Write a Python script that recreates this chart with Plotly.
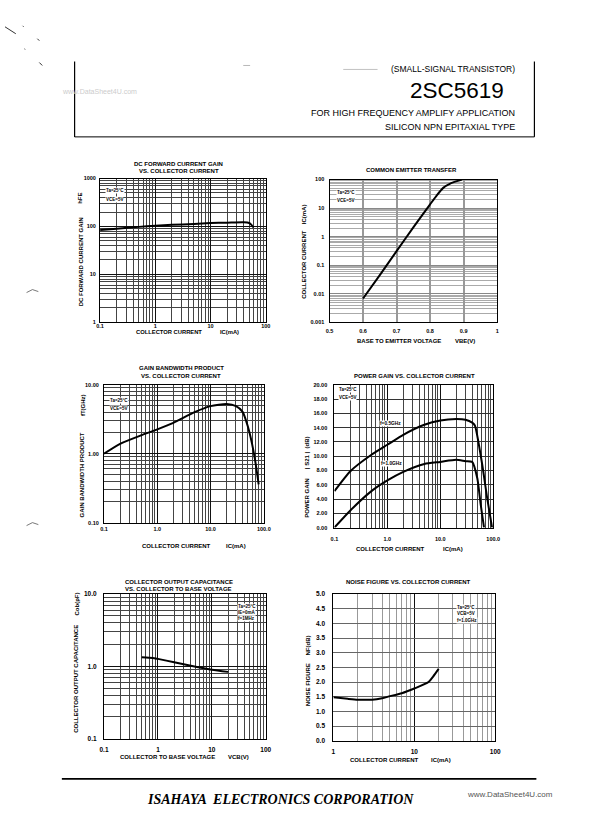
import plotly.graph_objects as go

W, H = 612, 834
SANS = "Liberation Sans Narrow, Liberation Sans, Arial, sans-serif"
SANS_W = "Liberation Sans, Arial, sans-serif"
SERIF = "Liberation Serif, Times New Roman, serif"

# ---------------- data ----------------
hfe_ic = [0.1, 0.2, 0.5, 1, 2, 5, 10, 20, 40, 50, 55, 60]
hfe = [84, 90, 98, 104, 108, 113, 118, 120, 122, 118, 108, 95]

vbe = [0.60, 0.65, 0.70, 0.75, 0.80, 0.82, 0.84, 0.86, 0.88, 0.895]
ic_vbe = [0.0068, 0.045, 0.31, 2.1, 13.5, 28, 52, 72, 88, 100]

ft_ic = [0.1, 0.2, 0.5, 1, 2, 5, 10, 20, 30, 40, 50, 60, 70, 80]
ft = [1.0, 1.39, 1.85, 2.25, 2.8, 4.0, 4.9, 5.25, 4.9, 4.05, 2.5, 1.4, 0.73, 0.36]

pg_ic = [0.1, 0.2, 0.5, 1, 2, 5, 10, 20, 30, 40, 45, 62, 77, 95]
pg_05 = [5.1, 7.9, 10.2, 11.6, 13.0, 14.4, 15.0, 15.2, 15.1, 14.7, 14.3, 8.8, 4.1, 0.0]
pg1_ic = [0.1, 0.2, 0.5, 1, 2, 5, 10, 20, 30, 40, 50, 58, 67]
pg_10 = [0.0, 2.4, 5.1, 6.6, 7.8, 8.9, 9.2, 9.5, 9.3, 9.2, 6.9, 3.2, 0.0]

cob_vcb = [0.5, 0.8, 1, 2, 5, 10, 20]
cob = [1.34, 1.31, 1.27, 1.14, 0.99, 0.90, 0.84]

nf_ic = [1, 1.5, 2, 3, 4, 5, 7, 10, 15, 17, 20]
nf = [1.48, 1.43, 1.40, 1.40, 1.45, 1.52, 1.62, 1.78, 2.0, 2.18, 2.45]

# tick labels
lbl_p1x = ["0.1", "1", "10", "100"]
lbl_p1y = ["1", "10", "100", "1000"]
lbl_p2x = ["0.5", "0.6", "0.7", "0.8", "0.9", "1"]
lbl_p2y = ["0.001", "0.01", "0.1", "1", "10", "100"]
lbl_p3x = ["0.1", "1.0", "10.0", "100.0"]
lbl_p3y = ["0.10", "1.00", "10.00"]
lbl_p4y = ["0.00", "2.00", "4.00", "6.00", "8.00", "10.00", "12.00", "14.00", "16.00", "18.00", "20.00"]
lbl_p5y = ["0.1", "1.0", "10.0"]
lbl_p6x = ["1", "10", "100"]
lbl_p6y = ["0.0", "0.5", "1.0", "1.5", "2.0", "2.5", "3.0", "3.5", "4.0", "4.5", "5.0"]

# ---------------- helpers ----------------
def fx(px):
    return px / W

def fy(py):
    return 1 - py / H

def minors(lo, hi):
    out = []
    e = lo
    while e < hi:
        for m in range(2, 10):
            out.append(m * 10 ** e)
        e += 1
    return out

fig = go.Figure()
annots = []
shapes = []

def ann(text, x, y, size, xanchor="center", yanchor="middle", angle=0,
        family=SANS, color="black", bold=True, bg=None, italic=False):
    t = text
    if italic:
        t = "<i>" + t + "</i>"
    if bold:
        t = "<b>" + t + "</b>"
    d = dict(text=t, x=fx(x), y=fy(y), xref="paper", yref="paper",
             showarrow=False, xanchor=xanchor, yanchor=yanchor, textangle=angle,
             font=dict(family=family, size=size, color=color))
    if bg:
        d["bgcolor"] = bg
    d["borderpad"] = 0
    annots.append(d)

def axis_common():
    return dict(showline=True, mirror=True, linecolor="black", linewidth=1.2,
                ticks="", ticklen=0, zeroline=False, showgrid=True)

layout_axes = {}

def add_panel(idx, box, xcfg, ycfg):
    x0, x1, y0, y1 = box
    xa = "xaxis" if idx == 1 else f"xaxis{idx}"
    ya = "yaxis" if idx == 1 else f"yaxis{idx}"
    xc = axis_common()
    xc.update(xcfg)
    xc.update(domain=[fx(x0), fx(x1)], anchor=f"y{'' if idx == 1 else idx}")
    yc = axis_common()
    yc.update(ycfg)
    yc.update(domain=[fy(y1), fy(y0)], anchor=f"x{'' if idx == 1 else idx}")
    layout_axes[xa] = xc
    layout_axes[ya] = yc

def line(idx, xs, ys, width=2.0):
    fig.add_trace(go.Scatter(x=xs, y=ys, mode="lines",
                             line=dict(color="black", width=width, shape="spline", smoothing=0.6),
                             xaxis=f"x{'' if idx == 1 else idx}",
                             yaxis=f"y{'' if idx == 1 else idx}",
                             showlegend=False, hoverinfo="skip"))

TICKF = dict(family=SANS, size=5.5, color="black", weight="bold")
TICKF2 = dict(family=SANS_W, size=6.5, color="black", weight="bold")

def logax(lo, hi, labels, major_col="#111", minor_col="#444", mw=0.8, font=TICKF, stand=1):
    vals = [10 ** e for e in range(lo, hi + 1)]
    return dict(type="log", range=[lo, hi], tickvals=vals, ticktext=labels,
                gridcolor=major_col, gridwidth=1.0, tickfont=font,
                ticklabelstandoff=stand,
                minor=dict(tickvals=minors(lo, hi), showgrid=True,
                           gridcolor=minor_col, gridwidth=mw, ticks=""))

# ---- Panel 1: hFE vs IC
add_panel(1, (97, 266, 176, 321),
          logax(-1, 2, lbl_p1x, stand=-2),
          logax(0, 3, lbl_p1y, stand=2))
line(1, hfe_ic, hfe)

# ---- Panel 2: IC vs VBE
add_panel(2, (331, 502, 177, 321),
          dict(type="linear", range=[0.5, 1.0], tickvals=[0.5, 0.6, 0.7, 0.8, 0.9, 1.0],
               ticktext=lbl_p2x, gridcolor="#999", gridwidth=1.6, tickfont=TICKF,
               ticklabelstandoff=3),
          logax(-3, 2, lbl_p2y, major_col="#888", minor_col="#aaa", mw=1.1, stand=3))
line(2, vbe, ic_vbe)

# ---- Panel 3: fT vs IC
add_panel(3, (101, 264, 384, 523),
          logax(-1, 2, lbl_p3x, stand=1),
          logax(-1, 1, lbl_p3y, stand=3))
line(3, ft_ic, ft)

# ---- Panel 4: power gain
add_panel(4, (336, 498, 384, 528),
          logax(-1, 2, lbl_p3x, stand=6),
          dict(type="linear", range=[0, 20], tickvals=list(range(0, 21, 2)),
               ticktext=lbl_p4y, gridcolor="#333", gridwidth=0.8, tickfont=TICKF,
               ticklabelstandoff=5))
line(4, pg_ic, pg_05)
line(4, pg1_ic, pg_10)

# ---- Panel 5: Cob vs VCB
add_panel(5, (101, 266, 595, 741),
          logax(-1, 2, lbl_p1x, font=TICKF2, stand=4),
          logax(-1, 1, lbl_p5y, font=TICKF2, stand=5))
line(5, cob_vcb, cob)

# ---- Panel 6: NF vs IC
add_panel(6, (335, 500, 595, 743),
          logax(0, 2, lbl_p6x, minor_col="#999", mw=1.2, font=TICKF2, stand=4),
          dict(type="linear", range=[0, 5], tickvals=[i * 0.5 for i in range(11)],
               ticktext=lbl_p6y, gridcolor="#666", gridwidth=0.8, tickfont=TICKF2,
               ticklabelstandoff=6))
line(6, nf_ic, nf)

# ---------------- titles / labels ----------------
TS = 6
# panel 1
ann("DC FORWARD CURRENT GAIN", 177, 161, TS)
ann("VS. COLLECTOR CURRENT", 177, 168, TS)
ann("COLLECTOR CURRENT", 167, 331, 5.8)
ann("IC(mA)", 229, 331, 5.8)
ann("DC FORWARD CURRENT GAIN", 77, 260, TS, angle=-90)
ann("hFE", 77, 196, TS, angle=-90)
ann("Ta=25°C", 102, 188, 4.5, xanchor="left", bg="white")
ann("VCE=5V", 102, 197, 4.5, xanchor="left", bg="white")

# panel 2
ann("COMMON EMITTER TRANSFER", 415, 167, TS)
ann("BASE TO EMITTER VOLTAGE", 402, 340, TS)
ann("VBE(V)", 469, 340, TS)
ann("COLLECTOR CURRENT", 305, 263, TS, angle=-90)
ann("IC(mA)", 305, 212, TS, angle=-90)
ann("Ta=25°C", 338, 190, 4.5, xanchor="left", bg="white")
ann("VCE=5V", 338, 198, 4.5, xanchor="left", bg="white")

# panel 3
ann("GAIN BANDWIDTH PRODUCT", 180, 367, TS)
ann("VS. COLLECTOR CURRENT", 180, 375, TS)
ann("COLLECTOR CURRENT", 175, 547, TS)
ann("IC(mA)", 236, 547, TS)
ann("GAIN BANDWIDTH PRODUCT", 79, 475, TS, angle=-90)
ann("fT(GHz)", 79, 404, TS, angle=-90)
ann("Ta=25°C", 106, 400, 4.5, xanchor="left", bg="white")
ann("VCE=5V", 106, 408, 4.5, xanchor="left", bg="white")

# panel 4
ann("POWER GAIN VS. COLLECTOR CURRENT", 418, 375, TS)
ann("COLLECTOR CURRENT", 393, 550, TS)
ann("IC(mA)", 457, 550, TS)
ann("POWER GAIN", 308, 498, TS, angle=-90)
ann("| S21 |  (dB)", 308, 452, TS, angle=-90)
ann("Ta=25°C", 340, 389, 4.5, xanchor="left", bg="white")
ann("VCE=5V", 340, 397, 4.5, xanchor="left", bg="white")
ann("f=0.5GHz", 393, 423, 4.8, bg="white")
ann("f=1.0GHz", 394, 463, 4.8, bg="white")

# panel 5
ann("COLLECTOR OUTPUT CAPACITANCE", 177, 583, TS)
ann("VS. COLLECTOR TO BASE VOLTAGE", 177, 590, TS)
ann("COLLECTOR TO BASE VOLTAGE", 166, 759, TS)
ann("VCB(V)", 238, 759, TS)
ann("COLLECTOR OUTPUT CAPACITANCE", 73, 681, TS, angle=-90)
ann("Cob(pF)", 73, 605, TS, angle=-90)
ann("Ta=25°C", 237, 608, 4.5, xanchor="left", bg="white")
ann("IE=0mA", 237, 614, 4.5, xanchor="left", bg="white")
ann("f=1MHz", 237, 620, 4.5, xanchor="left", bg="white")

# panel 6
ann("NOISE FIGURE VS. COLLECTOR CURRENT", 412, 583, TS)
ann("COLLECTOR CURRENT", 387, 762, TS)
ann("IC(mA)", 445, 762, TS)
ann("NOISE FIGURE", 309, 686, TS, angle=-90)
ann("NF(dB)", 309, 647, TS, angle=-90)
ann("Ta=25°C", 460, 609, 4.5, xanchor="left", bg="white")
ann("VCB=5V", 460, 615, 4.5, xanchor="left", bg="white")
ann("f=1.0GHz", 460, 622, 4.5, xanchor="left", bg="white")

# ---------------- header ----------------
ann("(SMALL-SIGNAL TRANSISTOR)", 521, 66, 8.5, xanchor="right", family=SANS_W, bold=False)
ann("2SC5619", 510, 87, 22.5, xanchor="right", family=SANS_W, bold=False)
ann("FOR HIGH FREQUENCY AMPLIFY APPLICATION", 521, 110, 9, xanchor="right", family=SANS_W, bold=False)
ann("SILICON NPN EPITAXIAL TYPE", 521, 124, 9, xanchor="right", family=SANS_W, bold=False)
ann("www.DataSheet4U.com", 57, 88, 7, xanchor="left", family=SANS_W, bold=False, color="#cccccc")

# footer
ann("ISAHAYA  ELECTRONICS CORPORATION", 281, 802, 14, family=SERIF, bold=True, italic=True)
ann("www.DataSheet4U.com", 515, 797, 8, family=SANS_W, bold=False, color="#555555")

def seg(x0, y0, x1, y1, w=1.2, c="black"):
    shapes.append(dict(type="line", xref="paper", yref="paper",
                       x0=fx(x0), y0=fy(y0), x1=fx(x1), y1=fy(y1),
                       line=dict(color=c, width=w)))

seg(71, 58, 71, 134, 1.2)
seg(71, 134, 540, 134, 1.0)
seg(540, 58, 540, 134, 1.2)
seg(58, 781.5, 542, 781.5, 1.8)
seg(345, 66, 380, 66, 0.6, "#999")

# scanner specks on the left margin
seg(0, 23, 11, 30, 1.0, "#333")
seg(18, 22, 19, 23, 1.0, "#444")
seg(33, 35, 35, 37, 1.0, "#333")
seg(20, 45, 20.5, 46, 1.0, "#555")
seg(35, 59, 38, 62, 1.0, "#333")
seg(22, 291, 28, 288, 0.8, "#555")
seg(28, 288, 34, 290, 0.8, "#555")
seg(22, 526, 28, 523, 0.8, "#555")
seg(28, 523, 34, 525, 0.8, "#555")
seg(243, 62, 250, 62, 0.6, "#888")

fig.update_layout(width=W, height=H, margin=dict(l=0, r=0, t=0, b=0),
                  paper_bgcolor="white", plot_bgcolor="white",
                  showlegend=False, annotations=annots, shapes=shapes,
                  **layout_axes)

fig.write_html("out.html", config={"displayModeBar": False},
               post_script="document.body.style.margin='0';document.body.style.padding='0';document.body.style.overflow='hidden';")
